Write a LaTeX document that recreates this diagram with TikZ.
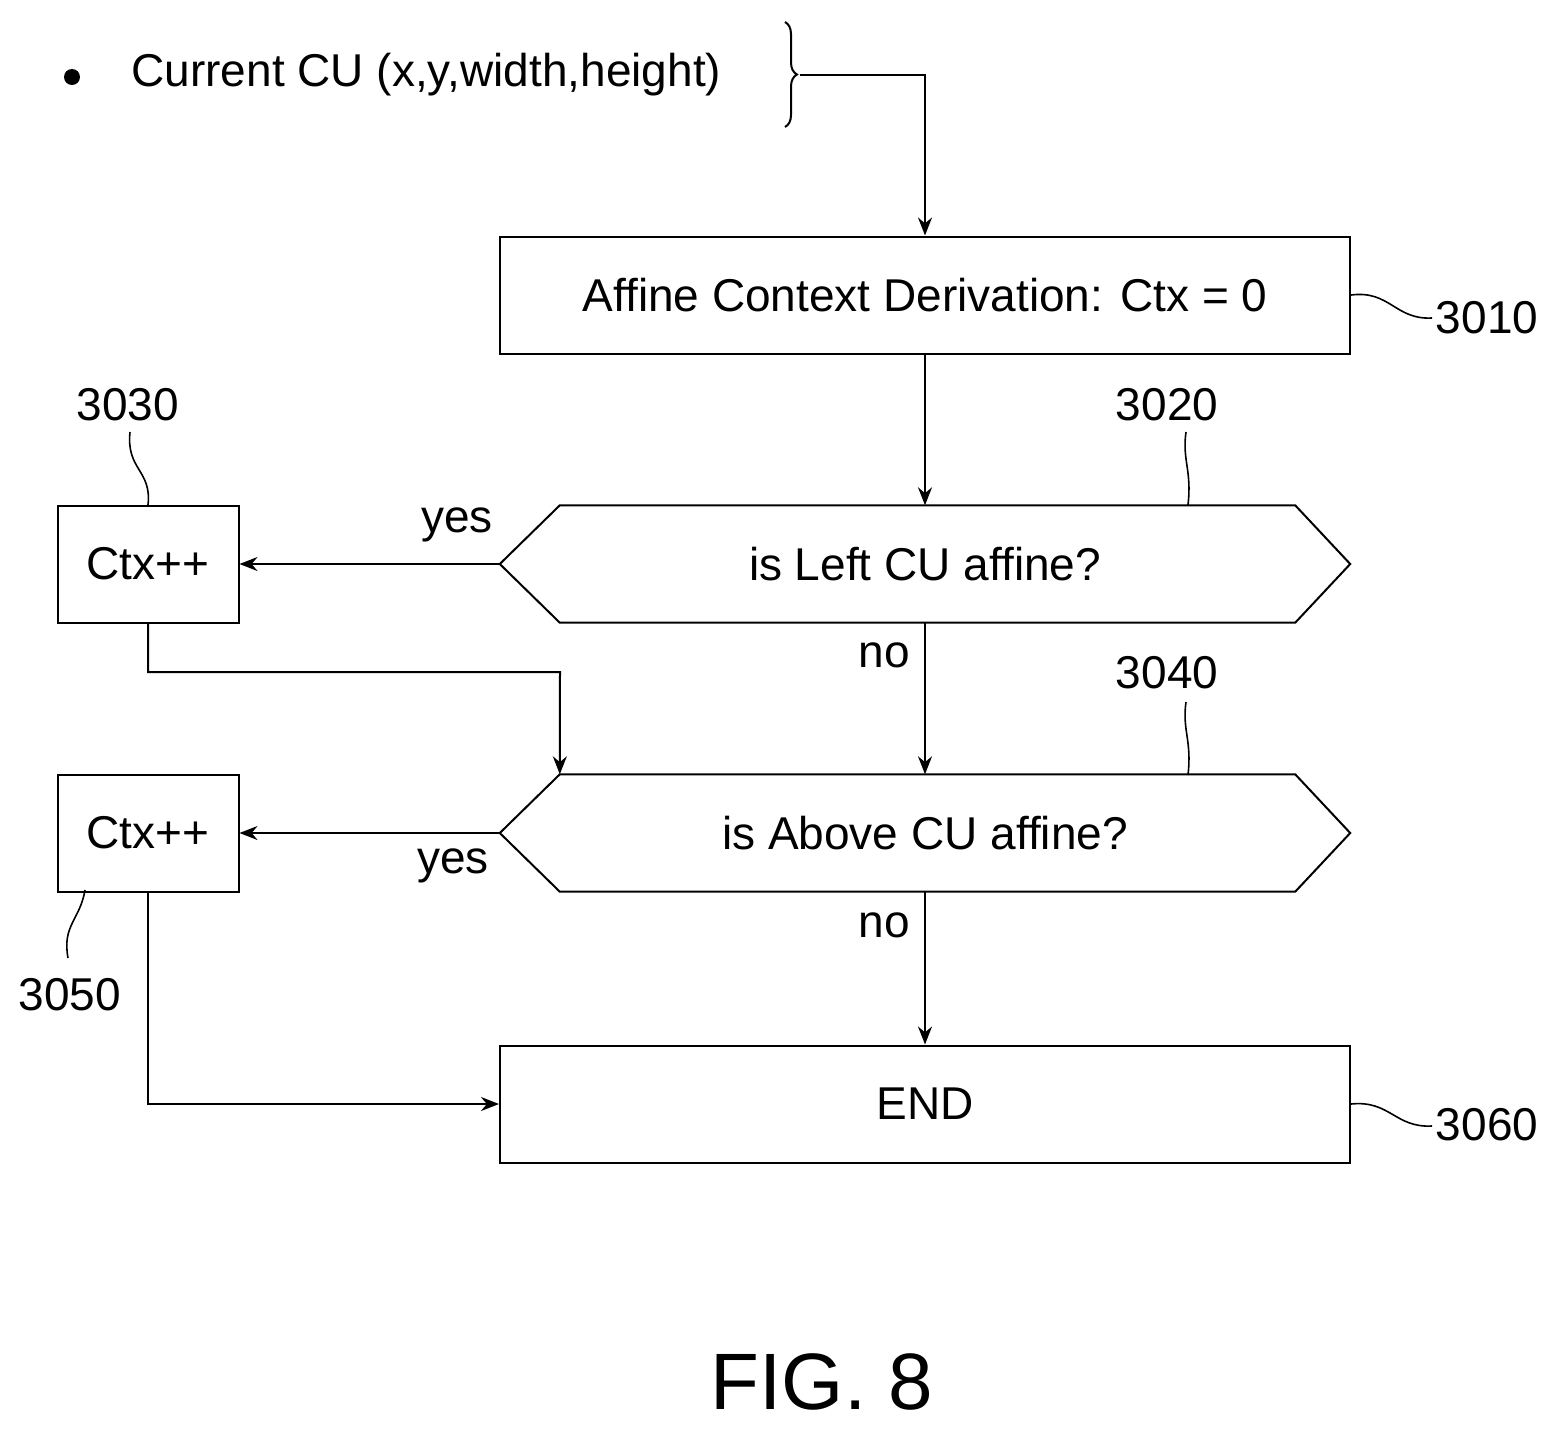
\documentclass[tikz,border=0pt]{standalone}
\usepackage{fontspec}
\setmainfont{Liberation Sans}
\usetikzlibrary{arrows.meta,decorations.pathreplacing}
\begin{document}
\begin{tikzpicture}[x=1pt,y=-1pt,
  box/.style={draw,line width=2pt,minimum width=#1,minimum height=117pt,inner sep=0pt,font=\fontsize{46}{54}\selectfont},
  box/.default=850pt,
  hex/.style={minimum width=850pt,minimum height=117pt,inner sep=0pt,font=\fontsize{46}{54}\selectfont},
  lab/.style={font=\fontsize{46}{54}\selectfont},
  con/.style={line width=2pt},
  arr/.style={con,-{Stealth[length=18pt,width=14pt]}},
  sq/.style={line width=1.6pt}]
\useasboundingbox (0,0) rectangle (1563,1430);
\fill (72,77) circle (8);
\node[lab,anchor=west] (cur) at (128,75) {Current CU (x,y,width,height)};
\draw[line width=2pt,decorate,decoration={brace,amplitude=12pt}] (785,22) -- (785,127);
\coordinate (br) at (800,75);
\node[box] (b1) at (925,295) {Affine Context Derivation: Ctx = 0};
\node[hex] (h1) at (925,564) {is Left CU affine?};
\node[hex] (h2) at (925,833) {is Above CU affine?};
\node[box] (end) at (925,1104) {END};
\node[box=181pt] (c1) at (148,564) {Ctx++};
\node[box=181pt] (c2) at (148,833) {Ctx++};
\foreach \h in {h1,h2}{
 \draw[line width=2pt] (\h.west) -- ([xshift=60pt]\h.north west) -- ([xshift=-55pt]\h.north east) -- (\h.east) -- ([xshift=-55pt]\h.south east) -- ([xshift=60pt]\h.south west) -- cycle;}
\draw[arr] (br) -| (b1.north);
\draw[arr] (b1.south) -- (h1.north);
\draw[arr] (h1.west) -- (c1.east);
\node[lab] (y1) at (457,525) {yes};
\draw[arr] (h1.south) -- (h2.north);
\node[lab] (n1) at (884,655) {no};
\draw[arr] (c1.south) |- (560,672) -- ([xshift=60pt]h2.north west);
\draw[arr] (h2.west) -- (c2.east);
\node[lab] (y2) at (453,866) {yes};
\draw[arr] (h2.south) -- (end.north);
\node[lab] (n2) at (884,925) {no};
\draw[arr] (c2.south) |- (end.west);
\node[lab] (l3010) at (1487,318) {3010};
\node[lab] (l3020) at (1167,405) {3020};
\node[lab] (l3030) at (128,405) {3030};
\node[lab] (l3040) at (1167,673) {3040};
\node[lab] (l3050) at (70,995) {3050};
\node[lab] (l3060) at (1487,1125) {3060};
\draw[sq] (b1.east) .. controls (1390,290) and (1395,320) .. (1432,318);
\draw[sq] (end.east) .. controls (1390,1100) and (1395,1128) .. (1432,1126);
\draw[sq] (1188,505) .. controls (1192,470) and (1182,460) .. (1186,432);
\draw[sq] (1188,775) .. controls (1192,740) and (1182,730) .. (1186,702);
\draw[sq] (148,505) .. controls (152,470) and (126,470) .. (130,432);
\draw[sq] (85,890) .. controls (80,920) and (62,925) .. (68,958);
\node[font=\fontsize{80}{90}\selectfont] (fig) at (822,1382) {FIG. 8};
\end{tikzpicture}
\end{document}
